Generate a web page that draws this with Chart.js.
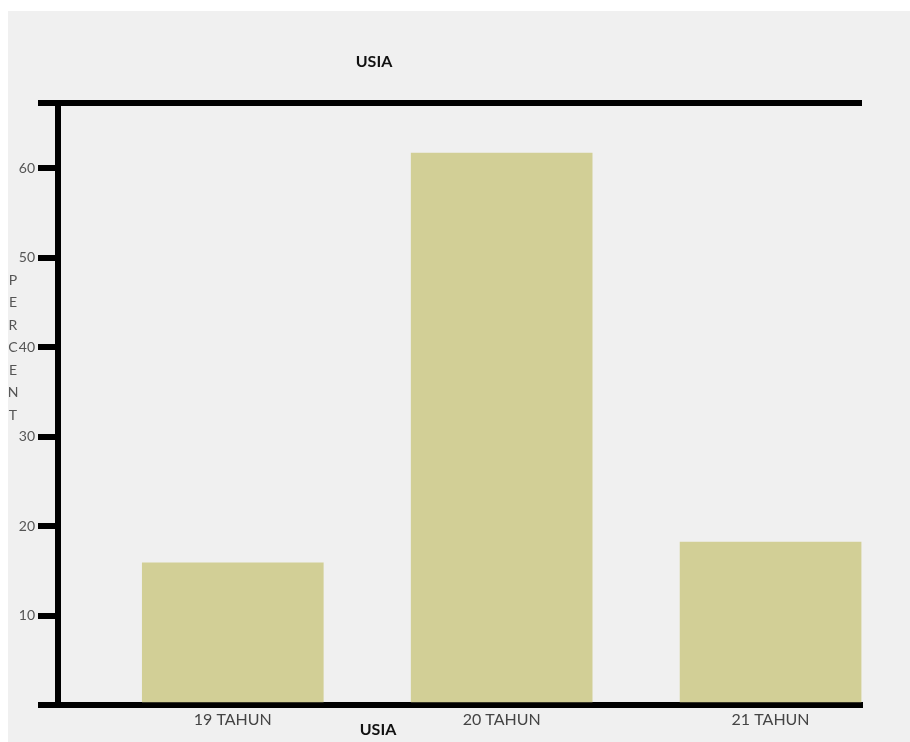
<!DOCTYPE html>
<html>
<head>
<meta charset="utf-8">
<title>USIA</title>
<script src="https://cdn.jsdelivr.net/npm/chart.js@4.4.1/dist/chart.umd.min.js"></script>
<style>
  html, body { margin: 0; padding: 0; background: #fff; }
  canvas { display: block; }
</style>
</head>
<body>
<canvas id="chart" width="910" height="742"></canvas>
<script>
// age groups and share of respondents (%)
var labels = ["19 TAHUN", "20 TAHUN", "21 TAHUN"];
var percent = [15.9, 61.7, 18.2];
var yTicks = [10, 20, 30, 40, 50, 60];
var yMax = 67.3;
var titleText = "USIA";
var yTitleText = "PERCENT";

var face = "Lato, 'Open Sans', sans-serif";

// grey panel behind everything, plus the titles
var decor = {
    id: 'decor',
    beforeDraw: function (chart) {
        var c = chart.ctx;
        c.save();
        c.fillStyle = '#f0f0f0';
        c.fillRect(8, 11, chart.width - 8, chart.height - 11);
        c.restore();
    },
    afterDraw: function (chart) {
        var c = chart.ctx;
        c.save();
        c.textAlign = 'center';
        c.textBaseline = 'middle';
        c.fillStyle = '#111';
        c.font = 'bold 16px ' + face;
        c.fillText(titleText, 374, 62);
        c.fillText(titleText, 378, 730);
        // y title, one letter under the other
        c.fillStyle = '#555';
        c.font = '14px ' + face;
        var letters = yTitleText.split('');
        for (var i = 0; i < letters.length; i++) {
            c.fillText(letters[i], 13, 280 + i * 22.5);
        }
        c.restore();
    }
};

var points = percent.map(function (v, i) { return { x: i + 1, y: v }; });

var config = {
    type: 'bar',
    data: {
        datasets: [{
            label: titleText,
            data: points,
            backgroundColor: '#d2cf96',
            borderWidth: 0,
            barThickness: 181
        }]
    },
    options: {
        responsive: false,
        animation: false,
        layout: { padding: { left: 0, right: 48, top: 103, bottom: 0 } },
        plugins: {
            legend: { display: false },
            tooltip: { enabled: false },
            title: { display: false }
        },
        scales: {
            x: {
                type: 'linear',
                offset: false,
                min: 0.35,
                max: 3.34,
                afterFit: function (s) { s.height = 37; },
                afterBuildTicks: function (s) {
                    s.ticks = labels.map(function (l, i) { return { value: i + 1 }; });
                },
                ticks: {
                    autoSkip: false,
                    maxRotation: 0,
                    padding: 5,
                    color: '#444',
                    font: { family: face, size: 16 },
                    callback: function (v) { return labels[v - 1]; }
                },
                grid: { display: true, drawOnChartArea: false, drawTicks: false, color: 'rgba(0,0,0,0)' },
                border: { display: true, color: '#000', width: 6 }
            },
            y: {
                min: 0,
                max: yMax,
                afterFit: function (s) { s.width = 58; },
                afterBuildTicks: function (s) {
                    s.ticks = [0].concat(yTicks, [yMax]).map(function (v) { return { value: v }; });
                },
                ticks: {
                    padding: 3,
                    color: '#555',
                    font: { family: face, size: 14 },
                    callback: function (v) { return yTicks.indexOf(v) >= 0 ? String(v) : ''; }
                },
                grid: {
                    drawOnChartArea: true,
                    lineWidth: 6,
                    color: function (ctx) {
                        return ctx.tick && ctx.tick.value === yMax ? '#000' : 'rgba(0,0,0,0)';
                    },
                    tickLength: 20,
                    tickWidth: 6,
                    tickColor: '#000'
                },
                border: { display: true, color: '#000', width: 6 }
            }
        }
    },
    plugins: [decor]
};

var myChart = new Chart(document.getElementById('chart'), config);
</script>
</body>
</html>
